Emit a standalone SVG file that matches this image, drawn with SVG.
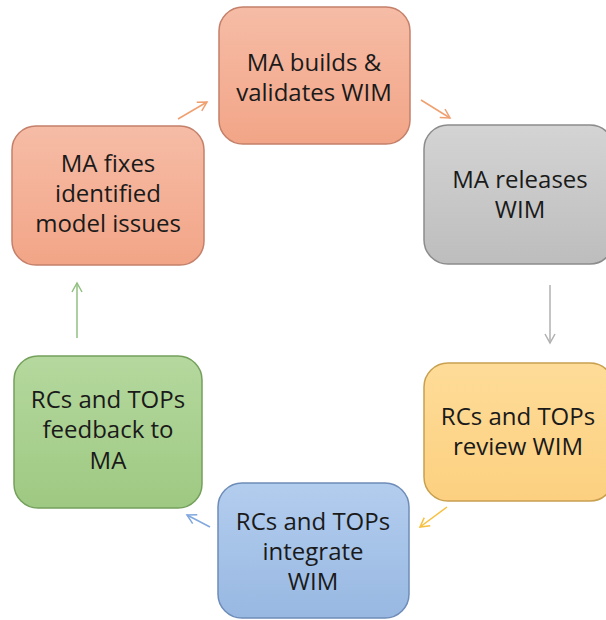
<svg xmlns="http://www.w3.org/2000/svg" width="606" height="620" viewBox="0 0 606 620">
<defs>
<linearGradient id="gO" x1="0" y1="0" x2="0" y2="1"><stop offset="0" stop-color="#f6bca6"/><stop offset="1" stop-color="#f2a587"/></linearGradient>
<linearGradient id="gG" x1="0" y1="0" x2="0" y2="1"><stop offset="0" stop-color="#d4d4d4"/><stop offset="1" stop-color="#bdbdbd"/></linearGradient>
<linearGradient id="gY" x1="0" y1="0" x2="0" y2="1"><stop offset="0" stop-color="#fedc98"/><stop offset="1" stop-color="#fcd080"/></linearGradient>
<linearGradient id="gB" x1="0" y1="0" x2="0" y2="1"><stop offset="0" stop-color="#b3cdee"/><stop offset="1" stop-color="#98b8e2"/></linearGradient>
<linearGradient id="gN" x1="0" y1="0" x2="0" y2="1"><stop offset="0" stop-color="#b5d89e"/><stop offset="1" stop-color="#9ec982"/></linearGradient>
<marker id="aO" markerWidth="12" markerHeight="12" refX="10" refY="6" orient="auto" markerUnits="userSpaceOnUse"><path d="M1,1 L10,6 L1,11" fill="none" stroke="#f0a070" stroke-width="1.5"/></marker>
<marker id="aG" markerWidth="12" markerHeight="12" refX="10" refY="6" orient="auto" markerUnits="userSpaceOnUse"><path d="M1,1 L10,6 L1,11" fill="none" stroke="#b0b0b0" stroke-width="1.5"/></marker>
<marker id="aY" markerWidth="12" markerHeight="12" refX="10" refY="6" orient="auto" markerUnits="userSpaceOnUse"><path d="M1,1 L10,6 L1,11" fill="none" stroke="#f8c040" stroke-width="1.5"/></marker>
<marker id="aB" markerWidth="12" markerHeight="12" refX="10" refY="6" orient="auto" markerUnits="userSpaceOnUse"><path d="M1,1 L10,6 L1,11" fill="none" stroke="#80a8de" stroke-width="1.5"/></marker>
<marker id="aN" markerWidth="12" markerHeight="12" refX="10" refY="6" orient="auto" markerUnits="userSpaceOnUse"><path d="M1,1 L10,6 L1,11" fill="none" stroke="#90c080" stroke-width="1.5"/></marker>
</defs>
<style>
.box{stroke-width:1.5}
text{font-family:"Open Sans","Liberation Sans",sans-serif;font-size:24px;fill:#1a1a1a;text-anchor:middle}
.c{fill:none;stroke-width:1.5}
</style>
<g id="connectors">
<line class="c" x1="178" y1="119" x2="207" y2="102" stroke="#f0a070" marker-end="url(#aO)"/>
<line class="c" x1="421" y1="100" x2="450" y2="118" stroke="#f0a070" marker-end="url(#aO)"/>
<line class="c" x1="550" y1="285" x2="550" y2="343" stroke="#b0b0b0" marker-end="url(#aG)"/>
<line class="c" x1="447" y1="507" x2="420" y2="527" stroke="#f8c040" marker-end="url(#aY)"/>
<line class="c" x1="210" y1="527" x2="187" y2="515" stroke="#80a8de" marker-end="url(#aB)"/>
<line class="c" x1="77" y1="338" x2="77" y2="283" stroke="#90c080" marker-end="url(#aN)"/>
</g>
<g id="n1">
<rect class="box" x="219" y="7" width="191" height="137" rx="24" fill="url(#gO)" stroke="#c4806a"/>
<text x="314" y="71">MA builds &amp;</text>
<text x="314" y="101">validates WIM</text>
</g>
<g id="n2">
<rect class="box" x="424" y="125" width="190" height="139" rx="24" fill="url(#gG)" stroke="#8c8c8c"/>
<text x="520" y="188">MA releases</text>
<text x="520" y="218">WIM</text>
</g>
<g id="n3">
<rect class="box" x="424" y="363" width="190" height="138" rx="24" fill="url(#gY)" stroke="#c8a050"/>
<text x="518" y="425">RCs and TOPs</text>
<text x="518" y="455">review WIM</text>
</g>
<g id="n4">
<rect class="box" x="218" y="483" width="191" height="135" rx="24" fill="url(#gB)" stroke="#6e8cb8"/>
<text x="313" y="530">RCs and TOPs</text>
<text x="313" y="560">integrate</text>
<text x="313" y="590">WIM</text>
</g>
<g id="n5">
<rect class="box" x="14" y="356" width="188" height="152" rx="24" fill="url(#gN)" stroke="#74a05c"/>
<text x="108" y="408">RCs and TOPs</text>
<text x="108" y="438">feedback to</text>
<text x="108" y="469">MA</text>
</g>
<g id="n6">
<rect class="box" x="12" y="126" width="192" height="139" rx="24" fill="url(#gO)" stroke="#c4806a"/>
<text x="108" y="172">MA fixes</text>
<text x="108" y="202">identified</text>
<text x="108" y="232">model issues</text>
</g>
</svg>
